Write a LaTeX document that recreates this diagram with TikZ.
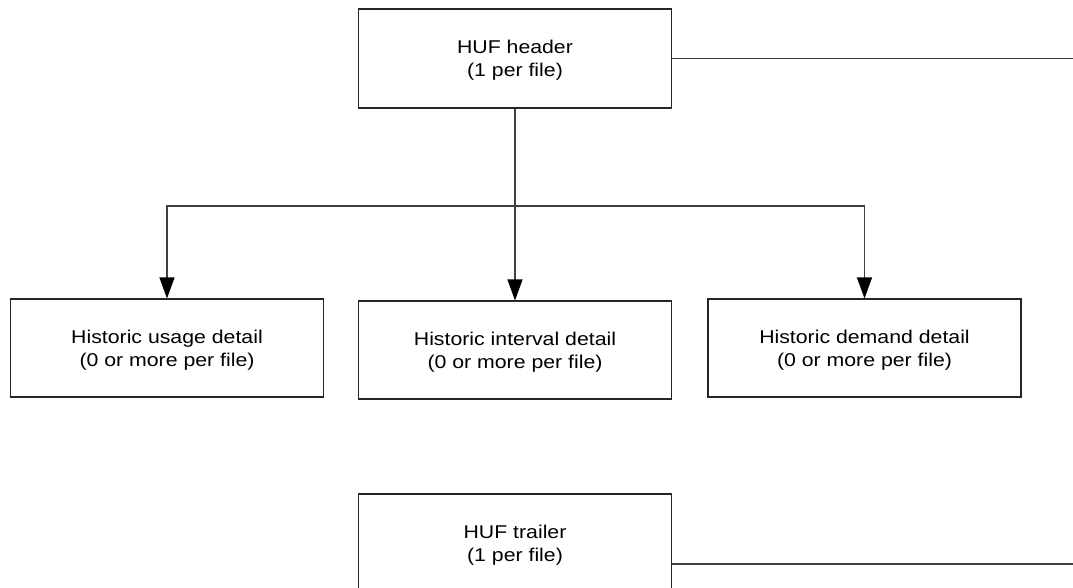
\documentclass[tikz,border=0pt]{standalone}
\usepackage{fontspec}
\setmainfont{Liberation Sans}[FakeStretch=1.15]
\usetikzlibrary{arrows.meta}
\tikzset{
  recbox/.style={draw=black!85, line width=1.1pt, fill=white, minimum width=313pt, minimum height=98pt, inner sep=0pt, align=center, font=\fontsize{18.5pt}{23pt}\selectfont, text depth=0pt},
  conn/.style={draw=black!75, line width=1.1pt},
  arr/.style={conn, -{Triangle[width=15pt,length=21pt,color=black,fill=black]}}
}
\begin{document}
\begin{tikzpicture}[x=1pt,y=-1pt]
\useasboundingbox (0,0) rectangle (1073,588);
\clip (0,0) rectangle (1073,588);
\node[recbox, minimum height=99pt] (hdr) at (515,58.5) {HUF header\\(1 per file)};
\node[recbox] (b1) at (167,348) {Historic usage detail\\(0 or more per file)};
\node[recbox] (b2) at (515,350) {Historic interval detail\\(0 or more per file)};
\node[recbox] (b3) at (864.5,348) {Historic demand detail\\(0 or more per file)};
\node[recbox, minimum height=99pt] (trl) at (515,543.5) {HUF trailer\\(1 per file)};
\coordinate (j) at (515,206);
\coordinate (hend) at (1073,58.5);
\coordinate (tend) at (1073,564);
\draw[arr] (hdr.south) -- (b2.north);
\draw[arr] (j) -| (b1.north);
\draw[arr] (j) -| (b3.north);
\draw[conn] (hdr.east) -- (hend);
\draw[conn] (trl.east |- tend) -- (tend);
\end{tikzpicture}
\end{document}
